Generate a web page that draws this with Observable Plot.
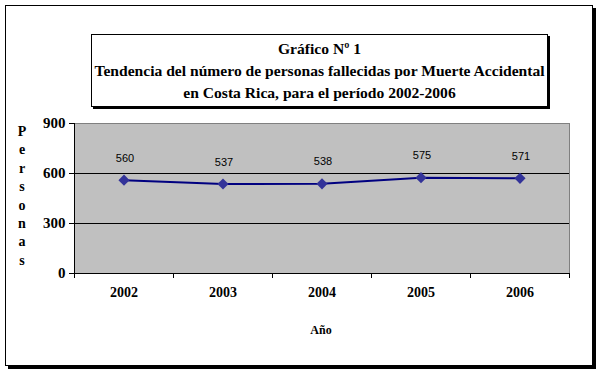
<!DOCTYPE html>
<html>
<head>
<meta charset="utf-8">
<script src="https://cdn.jsdelivr.net/npm/d3@7"></script>
<script src="https://cdn.jsdelivr.net/npm/@observablehq/plot@0.6"></script>
<style>
  html, body { margin: 0; padding: 0; background: #fff; }
  #wrap { position: relative; width: 601px; height: 373px; overflow: hidden; font-family: "Liberation Serif", "Times New Roman", serif; }
  .outer { position: absolute; left: 5px; top: 5px; width: 586px; height: 359px; border: 1px solid #000; box-shadow: 3px 3px 0 #000; }
  .titlebox { position: absolute; left: 91px; top: 34px; width: 455px; border: 1px solid #000; box-shadow: 2px 2px 0 #000; background: #fff;
    font-weight: bold; font-size: 15.6px; line-height: 22px; text-align: center; padding-top: 3px; height: 68px; white-space: nowrap; }
  .ylab { position: absolute; left: 13px; top: 123px; width: 18px; text-align: center; font-weight: bold; font-size: 14px; line-height: 18.4px; }
  .xlab { position: absolute; left: 271px; width: 100px; top: 323px; text-align: center; font-weight: bold; font-size: 12px; }
  #chart { position: absolute; left: 0; top: 0; }
</style>
</head>
<body>
<div id="wrap">
  <div class="outer"></div>
  <div class="titlebox">Gráfico Nº 1<br>Tendencia del número de personas fallecidas por Muerte Accidental<br>en Costa Rica, para el período 2002-2006</div>
  <div id="chart"></div>
  <div class="ylab" id="ylab"></div>
  <div class="xlab">Año</div>
</div>
<script>
const years = [2002, 2003, 2004, 2005, 2006];
const personas = [560, 537, 538, 575, 571];
const yTicks = [0, 300, 600, 900];
const yLabel = "Personas";

const data = years.map((y, i) => ({year: y, value: personas[i]}));
const bounds = years.map(y => y - 0.5).concat([years[years.length - 1] + 0.5]);
const grid = yTicks.filter(t => t > 0 && t < 900);

const chart = Plot.plot({
  width: 601,
  height: 373,
  marginLeft: 74,
  marginRight: 32,
  marginTop: 123,
  marginBottom: 100,
  style: { background: "transparent", fontFamily: "'Liberation Serif', 'Times New Roman', serif", overflow: "visible" },
  x: { type: "linear", domain: [bounds[0], bounds[bounds.length - 1]] },
  y: { domain: [0, 900] },
  marks: [
    Plot.frame({ fill: "#c0c0c0", stroke: "#808080" }),
    Plot.ruleY(grid, { stroke: "#000", strokeWidth: 1 }),
    Plot.ruleY([0], { stroke: "#000" }),
    Plot.ruleX([bounds[0]], { stroke: "#000" }),
    Plot.axisY({ ticks: yTicks, tickSize: 5, tickPadding: 4, tickFormat: d => String(d), fontWeight: "bold", fontSize: 15, label: null, stroke: "#000" }),
    Plot.axisX({ ticks: bounds, tickSize: 5, tickFormat: () => "", label: null, stroke: "#000" }),
    Plot.axisX({ ticks: years, tickSize: 0, tickPadding: 14, tickFormat: d => String(d), fontWeight: "bold", fontSize: 14, label: null }),
    Plot.line(data, { x: "year", y: "value", stroke: "#000080", strokeWidth: 2 }),
    Plot.dot(data, { x: "year", y: "value", symbol: "diamond2", r: 5, fill: "#333399", stroke: "none" }),
    Plot.text(data, { x: "year", y: "value", text: d => String(d.value), dy: -22, dx: 1, fontSize: 11, fontFamily: "'Liberation Sans', Arial, sans-serif", fill: "#000" })
  ]
});
document.getElementById("chart").appendChild(chart);
document.getElementById("ylab").innerHTML = yLabel.split("").join("<br>");
</script>
</body>
</html>
